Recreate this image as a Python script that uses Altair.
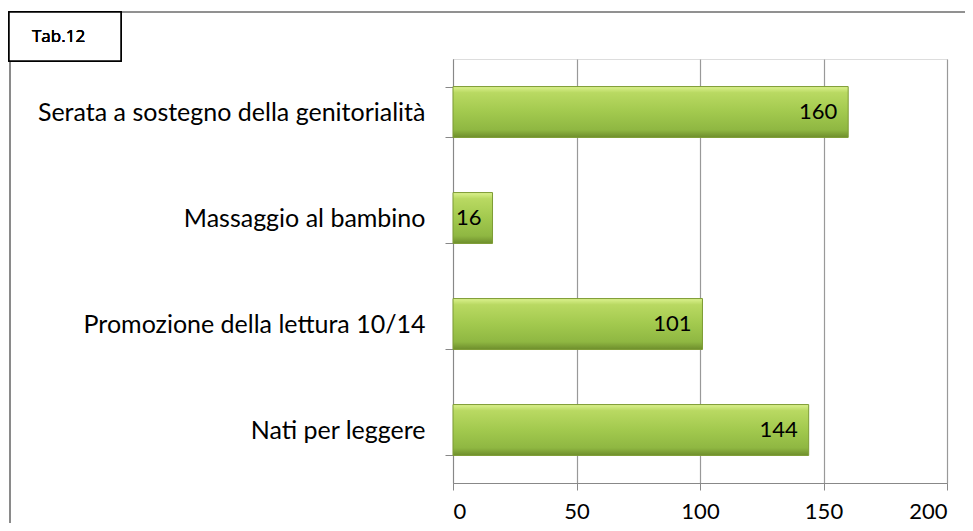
import altair as alt
import pandas as pd

categories = ["Serata a sostegno della genitorialità", "Massaggio al bambino", "Promozione della lettura 10/14", "Nati per leggere"]
values = [160, 16, 101, 144]
x_ticks = [0, 50, 100, 150, 200]

df = pd.DataFrame({"cat": categories, "val": values})

FONT = "Lato"
W, H = 494, 424

grad = alt.Gradient(
    gradient="linear", x1=0, y1=0, x2=0, y2=1,
    stops=[
        alt.GradientStop(color="#dcf28f", offset=0),
        alt.GradientStop(color="#b9d962", offset=0.12),
        alt.GradientStop(color="#a2c94e", offset=0.5),
        alt.GradientStop(color="#8fb742", offset=0.85),
        alt.GradientStop(color="#6e8e2c", offset=1),
    ],
)

y_enc = alt.Y("cat:N", sort=categories, title=None,
              scale=alt.Scale(paddingInner=0.52, paddingOuter=0.26),
              axis=alt.Axis(tickBand="extent", labelFont=FONT, labelFontSize=25,
                            labelColor="#000000", labelPadding=20, labelLimit=450,
                            domainColor="#888888", tickColor="#888888", tickSize=8,
                            grid=False))
x_enc = alt.X("val:Q", title=None,
              scale=alt.Scale(domain=[0, 200]),
              axis=alt.Axis(values=x_ticks, labelFont=FONT, labelFontSize=22,
                            labelColor="#000000", labelPadding=11,
                            domainColor="#888888", tickColor="#888888", tickSize=7,
                            grid=True, gridColor="#999999", gridWidth=1.2))

bars = alt.Chart(df).mark_bar(color=grad, stroke="#7d9c34", strokeWidth=1).encode(x=x_enc, y=y_enc)
labels = alt.Chart(df).mark_text(align="right", dx=-11, font=FONT, fontSize=22, color="#000000").encode(
    x="val:Q", y=alt.Y("cat:N", sort=categories), text="val:Q")

frame_top = alt.Chart(df).mark_rule(color="#8a8a8a", strokeWidth=1.2).encode(
    x=alt.value(-332), x2=alt.value(540), y=alt.value(-47))
frame_left = alt.Chart(df).mark_rule(color="#8a8a8a", strokeWidth=1.5).encode(
    x=alt.value(-443), y=alt.value(2), y2=alt.value(480))
box = alt.Chart(df).mark_rect(fill="white", stroke="#000000", strokeWidth=1.5).encode(
    x=alt.value(-444), x2=alt.value(-332), y=alt.value(-47), y2=alt.value(2))
box_text = alt.Chart(df).mark_text(align="left", baseline="middle", font="Open Sans", fontWeight="normal",
                                   fontSize=17, color="#000000").encode(
    x=alt.value(-421), y=alt.value(-22), text=alt.value("Tab.12"))

chart = alt.layer(bars, labels, frame_top, frame_left, box, box_text).properties(
    width=W, height=H,
    autosize=alt.AutoSizeParams(type="none"),
    padding={"left": 445, "top": 51, "right": 18, "bottom": 40},
).configure_view(stroke=None).configure(background="white")

chart.save("out.html", embed_options={"renderer": "svg", "actions": False})
